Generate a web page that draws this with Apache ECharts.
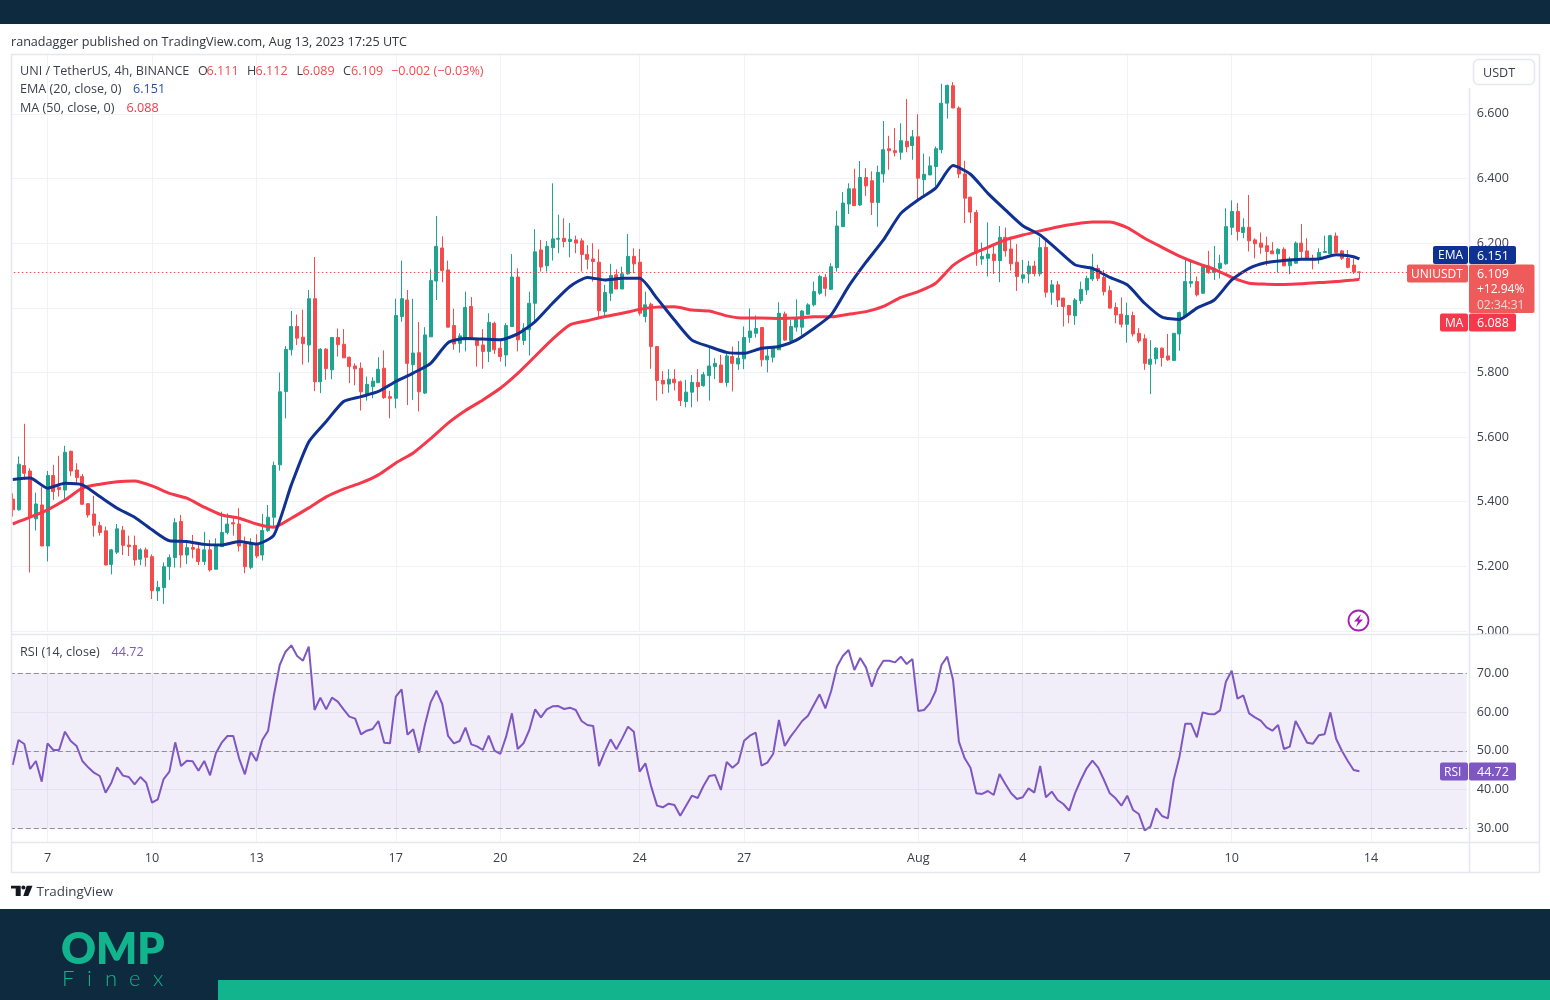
<!DOCTYPE html>
<html>
<head>
<meta charset="utf-8">
<style>
html, body { margin: 0; padding: 0; background: #fff; }
#cn { width: 1550px; height: 1000px; }
</style>
<script src="https://cdn.jsdelivr.net/npm/echarts@6/dist/echarts.min.js"></script>
</head>
<body>
<div id="cn"></div>
<script>
'use strict';

// candles, 4h, first one is Jul 6 00:00
const opens = [
5.408,5.375,5.512,5.495,5.347,5.390,5.263,5.481,5.445,5.436,
5.556,5.498,5.478,5.394,5.362,5.326,5.310,5.206,5.244,5.312,
5.266,5.265,5.222,5.251,5.230,5.124,5.134,5.199,5.227,5.339,
5.235,5.258,5.254,5.215,5.251,5.191,5.261,5.305,5.335,5.331,
5.269,5.197,5.269,5.235,5.311,5.352,5.514,5.741,5.870,5.942,
5.909,5.885,6.028,5.771,5.872,5.808,5.908,5.887,5.847,5.820,
5.813,5.734,5.756,5.768,5.813,5.725,5.720,5.973,6.024,5.824,
5.861,5.736,5.910,6.083,6.185,6.117,5.945,5.890,5.901,6.004,
5.901,5.885,5.865,5.952,5.875,5.854,5.942,6.095,5.899,5.932,
6.014,6.179,6.130,6.186,6.212,6.215,6.205,6.210,6.207,6.165,
6.151,6.141,5.988,6.045,6.102,6.058,6.105,6.159,6.141,5.973,
6.011,5.880,5.775,5.764,5.779,5.771,5.710,5.739,5.769,5.759,
5.790,5.818,5.823,5.769,5.849,5.826,5.842,5.908,5.921,5.939,
5.839,5.847,5.870,5.981,5.898,5.940,5.940,5.980,6.009,6.045,
6.094,6.057,6.124,6.251,6.321,6.368,6.318,6.403,6.393,6.326,
6.414,6.492,6.486,6.481,6.515,6.502,6.529,6.396,6.411,6.437,
6.489,6.633,6.687,6.618,6.414,6.342,6.295,6.151,6.153,6.166,
6.146,6.218,6.182,6.141,6.091,6.105,6.129,6.105,6.187,6.048,
6.071,6.030,6.007,5.975,6.022,6.055,6.089,6.122,6.094,6.053,
6.001,5.980,5.949,5.976,5.921,5.904,5.825,5.842,5.875,5.851,
5.837,5.919,5.973,6.076,6.081,6.045,6.130,6.109,6.122,6.136,
6.249,6.298,6.233,6.249,6.210,6.200,6.192,6.176,6.167,6.181,
6.130,6.138,6.200,6.176,6.153,6.150,6.171,6.167,6.222,6.176,
6.153,6.132,6.111];

const closes = [
5.375,5.516,5.488,5.354,5.393,5.263,5.481,5.431,5.438,5.553,
5.495,5.475,5.392,5.359,5.327,5.305,5.204,5.251,5.316,5.265,
5.261,5.220,5.251,5.228,5.125,5.135,5.199,5.227,5.335,5.235,
5.258,5.253,5.215,5.251,5.189,5.264,5.305,5.331,5.331,5.263,
5.199,5.271,5.232,5.311,5.352,5.512,5.740,5.871,5.942,5.906,
5.889,6.028,5.771,5.872,5.812,5.908,5.886,5.845,5.818,5.811,
5.740,5.763,5.773,5.810,5.722,5.720,5.976,6.028,5.828,5.860,
5.740,5.916,6.084,6.190,6.115,5.940,5.888,5.913,6.001,5.906,
5.883,5.865,5.955,5.870,5.849,5.945,6.095,5.901,5.937,6.014,
6.173,6.126,6.190,6.213,6.215,6.205,6.212,6.200,6.165,6.150,
6.143,5.991,6.047,6.100,6.058,6.105,6.159,6.136,5.983,6.009,
5.880,5.775,5.764,5.779,5.768,5.713,5.739,5.769,5.756,5.793,
5.820,5.828,5.769,5.851,5.828,5.844,5.908,5.928,5.936,5.839,
5.851,5.875,5.983,5.900,5.942,5.965,5.990,6.009,6.050,6.097,
6.060,6.127,6.253,6.324,6.368,6.316,6.403,6.377,6.326,6.419,
6.489,6.486,6.480,6.517,6.498,6.529,6.401,6.413,6.439,6.492,
6.633,6.688,6.618,6.414,6.339,6.296,6.169,6.159,6.166,6.146,
6.218,6.176,6.136,6.097,6.102,6.129,6.106,6.186,6.048,6.071,
6.024,6.004,5.978,6.024,6.057,6.091,6.126,6.091,6.050,5.999,
5.978,5.949,5.976,5.919,5.897,5.828,5.841,5.875,5.846,5.839,
5.921,5.985,6.081,6.081,6.040,6.128,6.109,6.122,6.138,6.251,
6.298,6.236,6.249,6.207,6.198,6.187,6.174,6.167,6.181,6.130,
6.146,6.200,6.174,6.150,6.148,6.171,6.174,6.223,6.171,6.153,
6.125,6.111,6.109];

const highs = [
5.426,5.540,5.641,5.503,5.428,5.445,5.495,5.514,5.542,5.573,
5.558,5.519,5.486,5.395,5.418,5.338,5.323,5.254,5.331,5.325,
5.295,5.295,5.256,5.258,5.237,5.155,5.212,5.237,5.349,5.359,
5.276,5.297,5.269,5.307,5.282,5.287,5.369,5.364,5.352,5.380,
5.292,5.287,5.299,5.362,5.390,5.524,5.800,5.882,5.990,5.979,
5.994,6.055,6.157,5.875,5.875,5.909,5.936,5.934,5.849,5.828,
5.831,5.787,5.785,5.847,5.868,5.743,6.028,6.146,6.055,6.028,
5.956,5.940,6.119,6.284,6.221,6.146,5.997,5.921,6.050,6.033,
5.906,5.934,5.983,5.957,5.901,5.952,6.166,6.122,5.952,6.050,
6.243,6.210,6.206,6.385,6.288,6.277,6.262,6.223,6.215,6.194,
6.200,6.181,6.071,6.136,6.119,6.127,6.228,6.184,6.182,6.050,
6.016,5.882,5.804,5.810,5.810,5.775,5.777,5.792,5.810,5.802,
5.880,5.844,5.854,5.864,5.880,5.897,5.942,5.998,5.976,5.939,
5.875,5.880,6.017,5.988,5.962,6.026,5.993,6.014,6.081,6.102,
6.104,6.138,6.300,6.358,6.385,6.430,6.454,6.432,6.422,6.440,
6.578,6.532,6.556,6.571,6.646,6.550,6.599,6.477,6.468,6.499,
6.693,6.690,6.698,6.623,6.455,6.344,6.303,6.202,6.264,6.194,
6.253,6.248,6.220,6.197,6.148,6.145,6.145,6.218,6.215,6.086,
6.083,6.030,6.009,6.030,6.081,6.099,6.167,6.133,6.117,6.068,
6.016,6.032,6.016,5.988,5.937,5.918,5.900,5.878,5.877,5.919,
5.921,5.988,6.148,6.143,6.097,6.130,6.176,6.191,6.164,6.308,
6.332,6.324,6.277,6.349,6.215,6.233,6.220,6.203,6.184,6.187,
6.158,6.205,6.259,6.215,6.164,6.184,6.223,6.226,6.233,6.179,
6.179,6.153,6.112];

const lows = [
5.354,5.372,5.467,5.181,5.311,5.263,5.215,5.405,5.416,5.402,
5.480,5.457,5.392,5.351,5.292,5.295,5.204,5.175,5.238,5.235,
5.232,5.202,5.204,5.199,5.099,5.093,5.084,5.158,5.196,5.196,
5.207,5.225,5.204,5.204,5.184,5.191,5.261,5.299,5.295,5.246,
5.179,5.191,5.225,5.218,5.307,5.323,5.496,5.658,5.852,5.885,
5.824,5.831,5.742,5.736,5.777,5.779,5.849,5.845,5.767,5.760,
5.682,5.713,5.720,5.768,5.718,5.658,5.689,5.957,5.699,5.715,
5.679,5.733,5.910,6.024,6.079,5.940,5.870,5.861,5.865,5.901,
5.818,5.811,5.832,5.857,5.834,5.818,5.942,5.865,5.885,5.852,
5.957,6.112,6.112,6.146,6.169,6.187,6.156,6.169,6.112,6.119,
6.081,5.966,5.973,6.021,6.058,6.058,6.102,6.107,5.976,5.955,
5.811,5.713,5.733,5.737,5.744,5.696,5.692,5.692,5.710,5.756,
5.713,5.779,5.769,5.756,5.741,5.808,5.810,5.892,5.908,5.818,
5.800,5.831,5.870,5.898,5.890,5.926,5.913,5.978,6.004,6.040,
6.035,6.055,6.112,6.251,6.290,6.315,6.315,6.346,6.287,6.251,
6.387,6.427,6.468,6.458,6.481,6.458,6.331,6.344,6.410,6.375,
6.478,6.585,6.618,6.401,6.262,6.262,6.130,6.133,6.097,6.105,
6.079,6.158,6.115,6.052,6.076,6.076,6.097,6.097,6.032,6.009,
6.002,5.942,5.952,5.947,6.012,6.040,6.083,6.083,6.038,5.997,
5.952,5.939,5.892,5.911,5.890,5.808,5.733,5.825,5.818,5.836,
5.837,5.867,5.973,6.063,6.035,6.043,6.105,6.086,6.091,6.133,
6.225,6.208,6.215,6.174,6.153,6.167,6.130,6.167,6.109,6.128,
6.104,6.136,6.148,6.148,6.119,6.136,6.171,6.164,6.169,6.148,
6.122,6.105,6.089];

const emaStep = 3;
const emaValues = [
5.469,5.473,5.442,5.457,5.452,5.416,5.380,5.352,5.313,5.279,
5.277,5.268,5.266,5.277,5.269,5.297,5.452,5.585,5.648,5.710,
5.725,5.741,5.772,5.798,5.828,5.892,5.905,5.903,5.901,5.919,
5.957,6.014,6.066,6.094,6.086,6.091,6.091,6.029,5.962,5.900,
5.880,5.862,5.859,5.875,5.880,5.900,5.936,5.978,6.066,6.141,
6.210,6.292,6.334,6.370,6.440,6.413,6.354,6.303,6.254,6.225,
6.179,6.133,6.122,6.094,6.071,6.014,5.971,5.964,5.999,6.024,
6.086,6.122,6.140,6.146,6.150,6.151,6.164,6.158,6.151];
const maValues = [
5.331,5.352,5.375,5.405,5.442,5.454,5.462,5.464,5.449,5.426,
5.411,5.383,5.359,5.349,5.331,5.321,5.349,5.381,5.415,5.439,
5.458,5.483,5.520,5.551,5.595,5.643,5.682,5.715,5.751,5.797,
5.850,5.903,5.947,5.960,5.973,5.983,5.995,6.002,6.003,5.993,
5.990,5.975,5.968,5.968,5.967,5.968,5.972,5.972,5.980,5.988,
6.004,6.032,6.050,6.076,6.131,6.164,6.187,6.210,6.225,6.238,
6.250,6.259,6.265,6.265,6.248,6.215,6.187,6.160,6.138,6.119,
6.094,6.076,6.073,6.072,6.074,6.078,6.081,6.086,6.088];

const rsiValues = [
46.33,52.81,51.77,45.30,47.37,42.01,51.95,50.22,50.22,54.97,
52.55,51.26,47.37,45.73,44.34,43.48,39.16,41.75,45.73,43.57,
43.22,41.32,43.22,41.75,36.57,37.43,42.70,44.60,52.21,46.07,
47.45,47.28,44.86,47.37,43.65,49.36,52.12,53.85,53.85,48.06,
43.91,49.79,47.37,52.81,55.23,64.47,72.25,75.70,77.35,74.58,
73.37,77.00,60.59,63.78,60.76,63.78,62.75,60.76,58.86,58.34,
54.28,55.23,55.66,57.74,52.12,51.95,64.04,65.94,54.19,55.58,
49.53,56.70,62.57,65.60,62.14,53.85,51.95,52.55,56.01,51.69,
51.17,50.22,53.93,50.05,49.18,53.68,59.72,50.48,51.95,55.40,
60.76,58.69,60.76,61.54,61.62,60.85,61.19,60.59,57.74,56.70,
56.44,46.07,49.79,52.98,50.39,53.24,56.27,54.97,44.60,46.76,
40.72,35.79,35.36,36.31,35.97,33.20,35.79,38.38,37.78,40.89,
43.48,43.74,39.85,47.11,45.64,46.94,52.64,53.93,54.71,46.16,
46.94,49.18,57.99,51.26,53.68,55.66,57.74,59.12,61.88,64.65,
61.02,65.51,71.82,74.58,76.14,70.95,74.06,71.64,66.63,70.95,
73.37,73.37,72.94,74.41,72.51,73.80,60.33,60.59,62.31,65.51,
72.25,74.41,68.36,52.38,48.06,45.64,38.99,38.82,39.59,38.56,
44.00,41.41,38.99,37.52,37.95,40.28,39.16,46.07,37.95,39.42,
37.26,36.22,34.50,38.99,42.44,45.47,47.45,45.64,42.44,38.99,
37.69,35.79,38.38,34.67,33.63,29.40,30.35,35.10,33.11,32.51,
42.44,48.49,57.04,57.04,53.50,59.98,59.55,59.46,60.50,67.93,
70.78,63.52,64.39,59.72,58.69,57.82,56.09,55.23,56.70,50.48,
51.08,57.74,54.97,52.12,51.86,54.02,54.28,59.98,53.07,49.96,
47.37,45.04,44.72];

const tickIndex = [6, 24, 42, 66, 84, 108, 126, 156, 174, 192, 210, 234];
const tickLabels = ['7', '10', '13', '17', '20', '24', '27', 'Aug', '4', '7', '10', '14'];
const priceTicks = [5.0, 5.2, 5.4, 5.6, 5.8, 6.0, 6.2, 6.4, 6.6];
const rsiTicks = [30, 40, 50, 60, 70];
const rsiLevels = [30, 50, 70];
const lastClose = 6.109;
const slotCount = 251; // candles plus the empty space on the right

const FONT = '"Open Sans", "Noto Sans", sans-serif';
const UP = '#1fa48f';
const DOWN = '#f44c4c';
const EMA_COLOR = '#0f3191';
const MA_COLOR = '#f5384a';
const RSI_COLOR = '#7e57c2';
const GRID_COLOR = '#f0f2f7';
const FRAME_COLOR = '#e6e8ef';
const DARK = '#0e2a3e';
const TEAL = '#12b48e';
const TEXT_COLOR = '#3b3f4b';

const categories = [];
for (let i = 0; i < slotCount; i++) categories.push(String(i));

const candleData = opens.map((o, i) => [o, closes[i], lows[i], highs[i]]);

const sparse = (arr, step, lastIdx) => arr.map((v, i) => {
    return [i === arr.length - 1 ? lastIdx : i * step, v];
});

const isTick = (idx) => tickIndex.includes(idx);

// helpers for the flat overlay stuff (header, tags, logo)
const txt = (x, y, text, fill, size, extra) => ({
    type: 'text',
    z: 50,
    style: Object.assign({
        x: x, y: y + 1, text: text, fill: fill || TEXT_COLOR,
        font: `${size || 12.6}px ${FONT}`, textVerticalAlign: 'middle', textAlign: 'left'
    }, extra || {})
});
const box = (x, y, w, h, fill, r, z) => ({
    type: 'rect',
    z: z || 40,
    shape: { x: x, y: y, width: w, height: h, r: r === undefined ? 2 : r },
    style: { fill: fill }
});
const hLine = (x1, x2, y) => ({
    type: 'line', z: 39, shape: { x1: x1, y1: y, x2: x2, y2: y },
    style: { stroke: FRAME_COLOR, lineWidth: 1.5 }
});
const vLine = (x, y1, y2) => ({
    type: 'line', z: 39, shape: { x1: x, y1: y1, x2: x, y2: y2 },
    style: { stroke: FRAME_COLOR, lineWidth: 1.5 }
});

const finexLetters = ['F', 'i', 'n', 'e', 'x'];
const finexX = [62, 87, 105, 129, 153];

const overlay = [
    // page bands
    box(0, 0, 1550, 24, DARK, 0),
    box(0, 909, 1550, 91, DARK, 0),
    box(218, 980, 1332, 20, TEAL, 0),
    // masks around the panes so the cut 5.000 label looks like the original
    box(0, 24, 11, 850, '#fff', 0, 30),
    box(1470, 635, 69, 30, '#fff', 0, 30),
    // frame
    hLine(11, 1539, 54.5), hLine(11, 1539, 634.5), hLine(11, 1539, 842.5), hLine(11, 1539, 872.5),
    vLine(11.5, 54, 873), vLine(1539.5, 54, 873), vLine(1469.5, 88, 873),
    // header and legends
    txt(11, 41, 'ranadagger published on TradingView.com, Aug 13, 2023 17:25 UTC', '#33363f'),
    txt(20, 70, 'UNI / TetherUS, 4h, BINANCE'),
    txt(198, 70, 'O'), txt(206.5, 70, '6.111', DOWN),
    txt(247, 70, 'H'), txt(255.5, 70, '6.112', DOWN),
    txt(296.5, 70, 'L'), txt(302.5, 70, '6.089', DOWN),
    txt(343, 70, 'C'), txt(351, 70, '6.109', DOWN),
    txt(391, 70, '−0.002 (−0.03%)', DOWN),
    txt(20, 88.5, 'EMA (20, close, 0)'), txt(133, 88.5, '6.151', '#2a4ea8'),
    txt(20, 107.5, 'MA (50, close, 0)'), txt(126.5, 107.5, '6.088', MA_COLOR),
    txt(20, 651.5, 'RSI (14, close)'), txt(111.5, 651.5, '44.72', RSI_COLOR),
    // USDT button
    {
        type: 'rect', z: 40, shape: { x: 1473.5, y: 59.5, width: 61, height: 25, r: 5 },
        style: { fill: '#fff', stroke: FRAME_COLOR, lineWidth: 1.5 }
    },
    txt(1483, 72, 'USDT', '#3b3f4b', 12.6),
    // price tags
    box(1433, 246, 35, 18, EMA_COLOR), box(1469, 246, 47, 18, EMA_COLOR),
    txt(1438, 255, 'EMA', '#fff', 12), txt(1477, 255, '6.151', '#fff', 12.5),
    box(1407, 264.5, 61, 18, '#ee5b5b'), box(1469, 264.5, 65.5, 48.5, '#ee5b5b'),
    txt(1411, 273.5, 'UNIUSDT', '#fff', 12), txt(1477, 273.5, '6.109', '#fff', 12.5),
    txt(1477, 289, '+12.94%', '#fff', 12), txt(1477, 305, '02:34:31', '#fbd5d5', 12),
    box(1440, 313.5, 28, 18, MA_COLOR), box(1469, 313.5, 47, 18, MA_COLOR),
    txt(1445, 322.5, 'MA', '#fff', 12), txt(1477, 322.5, '6.088', '#fff', 12.5),
    box(1440, 762.5, 28, 18, RSI_COLOR), box(1469, 762.5, 47, 18, RSI_COLOR),
    txt(1444, 771.5, 'RSI', '#fff', 12), txt(1477, 771.5, '44.72', '#fff', 12.5),
    // flash icon
    {
        type: 'circle', z: 40, shape: { cx: 1358.5, cy: 620.5, r: 10 },
        style: { fill: '#fff', stroke: '#a61fb5', lineWidth: 1.8 }
    },
    {
        type: 'polygon', z: 41,
        shape: { points: [[1361, 614], [1354, 621.5], [1358, 621.5], [1356, 627], [1363, 619.5], [1359, 619.5]] },
        style: { fill: '#a61fb5' }
    },
    // TradingView mark
    {
        type: 'polygon', z: 40,
        shape: { points: [[11, 885.7], [20.7, 885.7], [20.7, 896], [15.7, 896], [15.7, 888.5], [11, 888.5]] },
        style: { fill: '#131722' }
    },
    { type: 'circle', z: 40, shape: { cx: 23.4, cy: 887.5, r: 2 }, style: { fill: '#131722' } },
    {
        type: 'polygon', z: 40,
        shape: { points: [[26.7, 885.7], [32.5, 885.7], [28.3, 896], [23.3, 896]] },
        style: { fill: '#131722' }
    },
    txt(36.5, 891, 'TradingView', '#3b3f4b', 13.4),
    // OMP Finex logo
    {
        type: 'text', z: 40,
        style: {
            x: 61, y: 950, text: 'OMP', fill: TEAL, textVerticalAlign: 'middle',
            font: '800 43px Lato, "Open Sans", sans-serif'
        }
    }
].concat(finexLetters.map((c, i) => ({
    type: 'text', z: 40,
    style: {
        x: finexX[i], y: 979, text: c, fill: TEAL, textVerticalAlign: 'middle',
        font: '300 22px Lato, sans-serif'
    }
})));

const option = {
    animation: false,
    backgroundColor: '#fff',
    grid: [
        { left: 9.8, top: 55, width: 1457, height: 576 },
        { left: 9.8, top: 635, width: 1457, height: 207 }
    ],
    xAxis: [{
        type: 'category',
        gridIndex: 0,
        data: categories,
        axisLine: { show: false },
        axisTick: { show: false },
        axisLabel: { show: false },
        splitLine: { show: true, interval: isTick, alignWithLabel: true, lineStyle: { color: GRID_COLOR } }
    }, {
        type: 'category',
        gridIndex: 1,
        data: categories,
        axisLine: { show: false },
        axisTick: { show: false },
        axisLabel: {
            interval: isTick,
            margin: 10,
            color: TEXT_COLOR,
            fontFamily: FONT,
            fontSize: 12.6,
            formatter: (v, idx) => tickLabels[tickIndex.indexOf(idx)]
        },
        splitLine: { show: true, interval: isTick, alignWithLabel: true, lineStyle: { color: GRID_COLOR } }
    }],
    yAxis: [{
        type: 'value',
        gridIndex: 0,
        position: 'right',
        offset: 2,
        min: 5,
        max: 6.782,
        axisLine: { show: false },
        axisTick: { show: false, customValues: priceTicks },
        axisLabel: {
            customValues: priceTicks,
            margin: 8,
            padding: [4, 0, 0, 0],
            color: TEXT_COLOR,
            fontFamily: FONT,
            fontSize: 12.6,
            formatter: v => v.toFixed(3)
        },
        splitLine: { show: true, lineStyle: { color: GRID_COLOR } }
    }, {
        type: 'value',
        gridIndex: 1,
        position: 'right',
        offset: 2,
        min: 26.37,
        max: 80.03,
        axisLine: { show: false },
        axisTick: { show: false, customValues: rsiTicks },
        axisLabel: {
            customValues: rsiTicks,
            margin: 8,
            padding: [4, 0, 0, 0],
            color: TEXT_COLOR,
            fontFamily: FONT,
            fontSize: 12.6,
            formatter: v => v.toFixed(2)
        },
        splitLine: { show: true, lineStyle: { color: GRID_COLOR } }
    }],
    series: [{
        name: 'UNIUSDT',
        type: 'candlestick',
        xAxisIndex: 0,
        yAxisIndex: 0,
        barWidth: 3.5,
        data: candleData,
        itemStyle: { color: UP, color0: DOWN, borderColor: UP, borderColor0: DOWN, borderWidth: 1 },
        markLine: {
            silent: true,
            symbol: 'none',
            label: { show: false },
            lineStyle: { color: DOWN, type: [1.5, 2.5], width: 1 },
            data: [{ yAxis: lastClose }]
        }
    }, {
        name: 'MA',
        type: 'line',
        xAxisIndex: 0,
        yAxisIndex: 0,
        showSymbol: false,
        smooth: 0.2,
        data: sparse(maValues, emaStep, opens.length - 1),
        lineStyle: { color: MA_COLOR, width: 3 }
    }, {
        name: 'EMA',
        type: 'line',
        xAxisIndex: 0,
        yAxisIndex: 0,
        showSymbol: false,
        smooth: 0.2,
        data: sparse(emaValues, emaStep, opens.length - 1),
        lineStyle: { color: EMA_COLOR, width: 3 }
    }, {
        name: 'RSI',
        type: 'line',
        xAxisIndex: 1,
        yAxisIndex: 1,
        showSymbol: false,
        data: rsiValues,
        lineStyle: { color: RSI_COLOR, width: 2 },
        markArea: {
            silent: true,
            itemStyle: { color: 'rgba(126,87,194,0.1)' },
            data: [[{ yAxis: rsiLevels[0] }, { yAxis: rsiLevels[2] }]]
        },
        markLine: {
            silent: true,
            symbol: 'none',
            label: { show: false },
            lineStyle: { color: '#8c8f99', type: [5, 3], width: 1 },
            data: rsiLevels.map(v => ({ yAxis: v }))
        }
    }],
    graphic: overlay
};

const chart = echarts.init(document.getElementById('cn'));
chart.setOption(option);
</script>
</body>
</html>
